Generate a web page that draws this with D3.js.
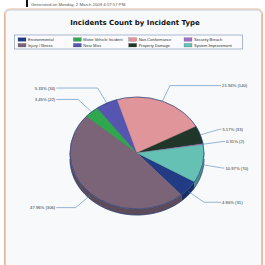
<!DOCTYPE html>
<html><head><meta charset="utf-8">
<script src="https://cdn.jsdelivr.net/npm/d3@7"></script>
<style>body{margin:0;background:#fff}svg{display:block}</style>
</head><body>
<svg id="c" width="265" height="265"></svg>
<script>
const categories = ["Environmental","Injury / Illness","Motor Vehicle Incident","Near Miss","Non-Conformance","Property Damage","Security Breach","System Improvement"];
const counts = [31, 306, 22, 34, 140, 33, 2, 70];
const percentLabels = ["4.86%","47.96%","3.45%","5.33%","21.94%","5.17%","0.31%","10.97%"];
const legendOrder = ["Environmental","Motor Vehicle Incident","Non-Conformance","Security Breach","Injury / Illness","Near Miss","Property Damage","System Improvement"];
const colors = {"Environmental":"#213c84","Injury / Illness":"#7b6478","Motor Vehicle Incident":"#2fa74f","Near Miss":"#5655b0","Non-Conformance":"#e0959b","Property Damage":"#1f3629","Security Breach":"#a272c2","System Improvement":"#64c1b3"};
const titleText = "Incidents Count by Incident Type";
const generatedText = "Generated on Monday, 2 March 2009 4:57:57 PM";

const svg = d3.select("#c");
// header
svg.append("rect").attr("x",26).attr("y",0).attr("width",2).attr("height",7).attr("fill","#111");
svg.append("text").attr("x",31).attr("y",5.5).attr("font-family","Liberation Sans, Arial").attr("font-size",4.3).attr("fill","#555").text(generatedText);
// panel
svg.append("rect").attr("x",4.5).attr("y",9).attr("width",258).attr("height",270).attr("rx",5).attr("fill","none").attr("stroke","#e8b898").attr("stroke-width",1);
svg.append("rect").attr("x",5.5).attr("y",10).attr("width",256).attr("height",270).attr("rx",4.5).attr("fill","#f8f9fb").attr("stroke","#b9c8d8").attr("stroke-width",0.8);
svg.append("text").attr("x",135).attr("y",24.5).attr("text-anchor","middle").attr("font-family","DejaVu Sans, Verdana").attr("font-weight","bold").attr("font-size",7).attr("fill","#111").text(titleText);

// legend
const lg = svg.append("g");
lg.append("rect").attr("x",14.5).attr("y",35).attr("width",228).attr("height",14).attr("fill","#fbfbfd").attr("stroke","#8a9cb8").attr("stroke-width",0.7);
const colX = d3.scalePoint().domain([0,1,2,3]).range([18,184]);
const rowY = d3.scalePoint().domain([0,1]).range([39.5,45.2]);
legendOrder.forEach((name,i)=>{
  const x0 = colX(i%4), y0 = rowY(Math.floor(i/4));
  lg.append("rect").attr("x",x0).attr("y",y0-1.8).attr("width",8).attr("height",3.6).attr("fill",colors[name]).attr("stroke","#445").attr("stroke-width",0.2);
  lg.append("text").attr("x",x0+10).attr("y",y0+1.4).attr("font-family","Liberation Sans, Arial").attr("font-size",4).attr("fill","#333").text(name);
});

// pie
const cx = 137, cy = 153, rx = 67, ry = 56, depth = 6;
const start = 121*Math.PI/180;
const pie = d3.pie().sort(null).value(d=>d.v).startAngle(start).endAngle(start+2*Math.PI);
const data = pie(categories.map((c,i)=>({c, v:counts[i], p:percentLabels[i]})));
const pt = (a,f=1,dy=0)=>[cx+rx*f*Math.sin(a), cy-ry*f*Math.cos(a)+dy];

// sides
const sides = svg.append("g");
const intervals = [[Math.PI/2,3*Math.PI/2],[Math.PI/2+2*Math.PI,3*Math.PI/2+2*Math.PI]];
data.forEach(d=>{
  intervals.forEach(([lo,hi])=>{
    const a0 = Math.max(d.startAngle,lo), a1 = Math.min(d.endAngle,hi);
    if (a1<=a0) return;
    const n = 40, pts=[];
    for(let k=0;k<=n;k++){pts.push(pt(a0+(a1-a0)*k/n));}
    for(let k=n;k>=0;k--){pts.push(pt(a0+(a1-a0)*k/n,1,depth));}
    sides.append("path").attr("d",d3.line()(pts)+"Z").attr("fill",d3.color(colors[d.data.c]).darker(0.8)).attr("stroke",d3.color(colors[d.data.c]).darker(1)).attr("stroke-width",0.3);
  });
});
// bottom outline
const bpts=[]; for(let k=0;k<=60;k++){bpts.push(pt(Math.PI/2+Math.PI*k/60,1,depth));}
svg.append("path").attr("d",d3.line()(bpts)).attr("fill","none").attr("stroke","#2b3f78").attr("stroke-width",0.7);

const topFace = svg.append("g").attr("transform",`translate(${cx},${cy}) scale(1,${ry/rx})`);
const arc = d3.arc().innerRadius(0).outerRadius(rx);
topFace.selectAll("path.s").data(data).join("path").attr("class","s").attr("d",arc)
  .attr("fill",d=>colors[d.data.c]).attr("stroke",d=>d3.color(colors[d.data.c]).darker(0.6)).attr("stroke-width",0.4).attr("vector-effect","non-scaling-stroke");
topFace.append("ellipse").attr("rx",rx).attr("ry",rx).attr("fill","none").attr("stroke","#2b4a88").attr("stroke-width",0.7).attr("vector-effect","non-scaling-stroke");

// labels
const lbl = svg.append("g");
const rightCol = cx + 1.27*rx, leftCol = cx - 1.22*rx;
data.forEach(d=>{
  const a = (d.startAngle+d.endAngle)/2;
  const front = Math.max(0,-Math.cos(a))*depth*0.7;
  const p0 = pt(a,1,front), p1 = pt(a,1.3,front);
  const right = Math.sin(a)>0;
  const lx = right ? Math.max(rightCol, p1[0]+3) : Math.min(leftCol, p1[0]-3);
  lbl.append("path").attr("d",d3.line()([p0,p1,[lx+(right?-1:1),p1[1]]])).attr("fill","none").attr("stroke","#4f86b8").attr("stroke-width",0.6);
  lbl.append("text").attr("x",lx).attr("y",p1[1]+1.5).attr("text-anchor",right?"start":"end")
    .attr("font-family","Liberation Sans, Arial").attr("font-size",4.2).attr("fill","#333").text(`${d.data.p} (${d.data.v})`);
});
</script>
</body></html>
